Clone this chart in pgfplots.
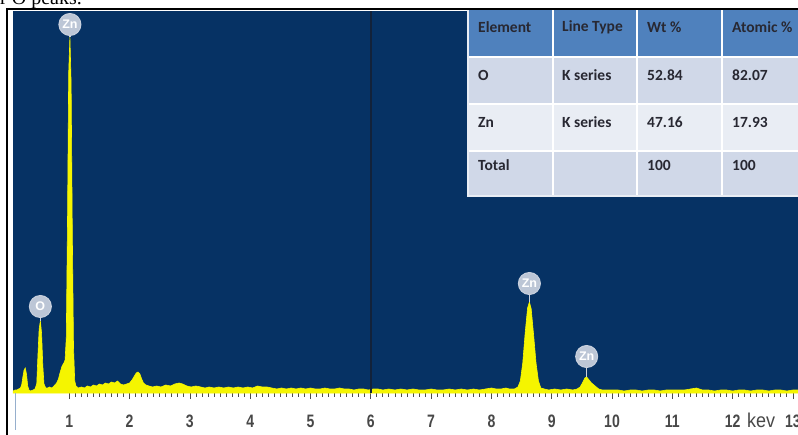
\documentclass[border=0pt]{standalone}
\usepackage{fontspec}
\usepackage{graphicx}
\usepackage{pgfplots}
\pgfplotsset{compat=1.18}
\setmainfont{Liberation Serif}
\newfontfamily\tickfont{Liberation Sans}
\newfontfamily\tabfont{Carlito}

\definecolor{plotbg}{RGB}{6,50,100}
\definecolor{cursor}{RGB}{18,34,58}
\definecolor{spec}{RGB}{245,245,0}
\definecolor{lblfill}{RGB}{188,198,214}
\definecolor{stem}{RGB}{205,210,220}
\definecolor{ticklbl}{RGB}{72,72,72}
\definecolor{hdr}{RGB}{79,129,189}
\definecolor{rowA}{RGB}{208,216,232}
\definecolor{rowB}{RGB}{233,237,244}
\definecolor{tabtext}{RGB}{40,40,50}
\definecolor{leftline}{RGB}{150,175,205}

% EDS spectrum: energy (keV) vs. intensity
\pgfplotstableread{
x y
0.07 2
0.10 3
0.13 3
0.16 4
0.19 5
0.21 8
0.23 16
0.25 23
0.27 25
0.29 19
0.31 7
0.33 3
0.36 2
0.40 3
0.43 4
0.46 9
0.48 38
0.50 64
0.52 72
0.54 60
0.56 28
0.58 9
0.61 5
0.64 5
0.67 6
0.70 5
0.73 6
0.76 8
0.79 10
0.82 14
0.85 21
0.88 27
0.91 30
0.93 33
0.95 55
0.97 170
0.99 320
1.01 356
1.03 310
1.05 160
1.07 45
1.09 12
1.11 7
1.15 5
1.20 6
1.25 5
1.30 7
1.35 6
1.40 8
1.45 7
1.50 9
1.55 8
1.60 10
1.65 9
1.70 11
1.75 10
1.80 12
1.85 9
1.90 8
1.95 9
2.00 10
2.04 13
2.08 17
2.11 20
2.14 21
2.17 19
2.20 14
2.23 10
2.27 8
2.32 7
2.38 6
2.45 7
2.52 6
2.60 8
2.68 7
2.75 9
2.82 10
2.88 9
2.95 7
3.02 6
3.10 7
3.18 6
3.25 5
3.32 6
3.40 5
3.48 6
3.56 5
3.64 6
3.72 5
3.80 6
3.88 5
3.96 6
4.04 5
4.12 7
4.20 6
4.28 6
4.36 5
4.44 4
4.52 5
4.60 4
4.68 5
4.76 4
4.84 5
4.92 4
5.00 5
5.08 4
5.16 4
5.24 5
5.32 4
5.40 4
5.48 5
5.56 4
5.64 4
5.72 3
5.80 4
5.88 4
5.96 3
6.04 4
6.12 4
6.20 3
6.30 4
6.40 3
6.50 4
6.60 3
6.70 4
6.80 3
6.90 3
7.00 4
7.10 3
7.20 3
7.30 4
7.40 3
7.50 4
7.60 3
7.70 4
7.80 3
7.90 4
8.00 5
8.08 4
8.16 4
8.24 5
8.30 4
8.38 4
8.44 6
8.48 12
8.52 30
8.56 60
8.60 85
8.63 91
8.66 84
8.70 58
8.74 30
8.78 12
8.82 5
8.88 4
8.95 3
9.05 4
9.15 3
9.25 4
9.35 3
9.42 4
9.47 6
9.51 10
9.55 15
9.58 16
9.62 13
9.66 10
9.70 8
9.74 6
9.78 4
9.84 3
9.92 3
10.00 3
10.10 3
10.20 2
10.30 3
10.40 3
10.50 2
10.60 3
10.70 3
10.80 2
10.90 3
11.00 3
11.10 3
11.20 3
11.30 4
11.40 5
11.50 3
11.60 3
11.70 2
11.80 3
11.90 3
12.00 2
12.10 3
12.20 3
12.30 2
12.40 3
12.50 3
12.60 2
12.70 3
12.80 3
12.90 2
13.00 3
13.09 3
}\spectrum

% peak identification markers: peak position, peak height, stem length
\pgfplotstableread{
x y stem lab
0.52 72 3 O
1.01 356 1 Zn
8.63 91 7 Zn
9.58 16 9 Zn
}\peaks

\begin{document}
\begin{tikzpicture}
\clip (0pt,0pt) rectangle (798pt,-434pt);
\fill[white] (0pt,0pt) rectangle (798pt,-434pt);

\begin{axis}[
  at={(13pt,-393pt)}, anchor=south west,
  scale only axis, width=785pt, height=382pt,
  xmin=0.0663, xmax=13.0846, ymin=0, ymax=382,
  axis background/.style={fill=plotbg},
  axis line style={draw=none},
  ytick=\empty,
  xtick={1,...,13},
  minor x tick num=9,
  xtick pos=bottom,
  tick align=outside,
  major tick length=6pt, minor tick length=3.5pt,
  every tick/.style={draw=gray!60!black, line width=0.8pt},
  xticklabel={\scalebox{0.78}[1]{\tickfont\bfseries\fontsize{18}{20}\selectfont\pgfmathprintnumber[assume math mode=true]{\tick}}},
  xticklabel style={text=ticklbl, anchor=base, yshift=-28pt},
  clip=false,
]
\addplot[fill=spec, draw=spec, line width=0.6pt] table[x=x,y=y] {\spectrum} \closedcycle;
\addplot[cursor, line width=1.4pt] coordinates {(6,0) (6,382)};
\addplot[only marks, mark=none,
  visualization depends on={\thisrow{stem} \as \stemlen},
  nodes near coords, point meta=explicit symbolic,
  every node near coord/.style={circle, fill=lblfill, draw=lblfill!80!white, line width=1pt,
    text=white, inner sep=0pt, minimum size=22pt, anchor=south, yshift=\stemlen pt,
    font=\tickfont\bfseries\fontsize{12.5}{13}\selectfont},
  error bars/.cd, y dir=plus, y explicit, error mark=none,
  error bar style={stem, line width=1.5pt}]
  table[x=x, y=y, y error=stem, meta=lab] {\peaks};
\end{axis}

\begin{scope}[x=1pt, y=1pt]
\node[anchor=base west, inner sep=0, font=\fontsize{20}{22}\selectfont] at (0,-4) {r O peaks.};
\draw[black, line width=2pt] (7,-436) -- (7,-9) -- (800,-9);
\draw[leftline, line width=1.2pt] (15.5,-393) -- (15.5,-430);
\node[anchor=base, inner sep=0, text=ticklbl] at (761,-427) {\scalebox{0.9}[1]{\tickfont\fontsize{20}{22}\selectfont kev}};

% composition table
\fill[hdr] (468,-10) rectangle (798,-57);
\fill[rowA] (468,-57) rectangle (798,-104);
\fill[rowB] (468,-104) rectangle (798,-151);
\fill[rowA] (468,-151) rectangle (798,-196);
\draw[white, line width=1.6pt] (468,-57) -- (798,-57) (468,-104) -- (798,-104) (468,-151) -- (798,-151)
  (553,-10) -- (553,-196) (637,-10) -- (637,-196) (722,-10) -- (722,-196);
\draw[rowB, line width=1.6pt] (468,-10) -- (468,-196) -- (800,-196);
\begin{scope}[every node/.style={anchor=west, inner sep=0, text=tabtext,
    font=\tabfont\bfseries\fontsize{15.5}{17}\selectfont}]
\node at (478,-27.5) {Element};
\node at (562,-27.5) {Line Type};
\node at (647,-27.5) {Wt \%};
\node at (732,-27.5) {Atomic \%};
\node at (478,-75) {O};
\node at (562,-75) {K series};
\node at (647,-75) {52.84};
\node at (732,-75) {82.07};
\node at (478,-122.5) {Zn};
\node at (562,-122.5) {K series};
\node at (647,-122.5) {47.16};
\node at (732,-122.5) {17.93};
\node at (478,-165) {Total};
\node at (647,-165) {100};
\node at (732,-165) {100};
\end{scope}
\end{scope}
\end{tikzpicture}
\end{document}
